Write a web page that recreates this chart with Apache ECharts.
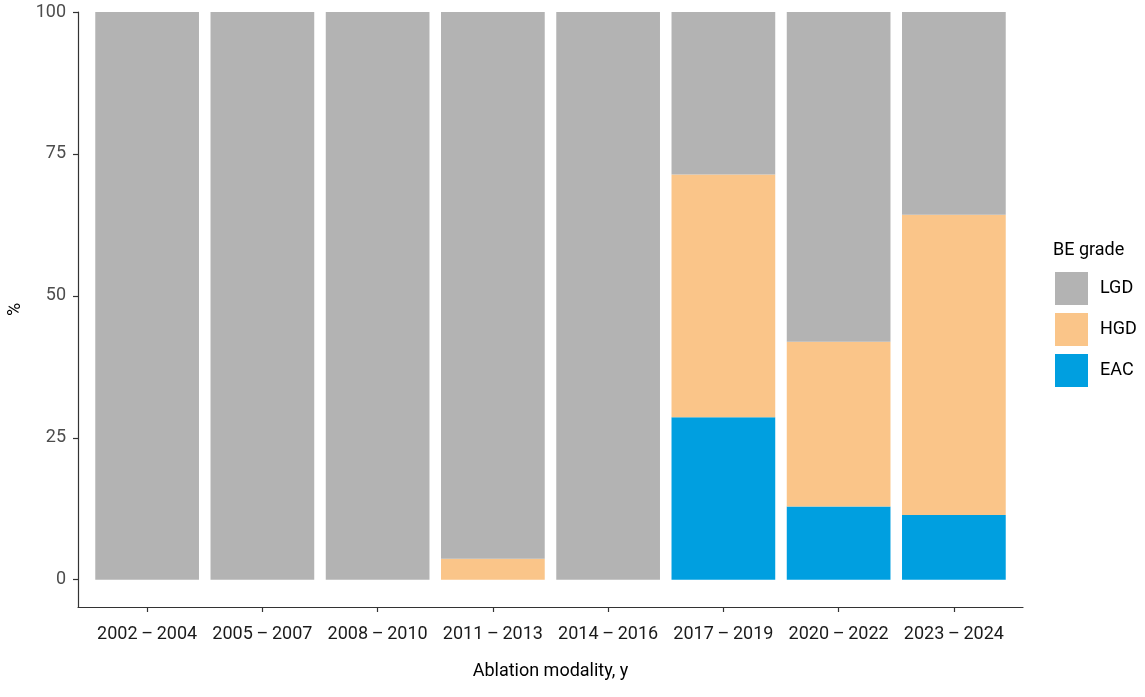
<!DOCTYPE html>
<html>
<head>
<meta charset="utf-8">
<script src="https://cdn.jsdelivr.net/npm/echarts@6/dist/echarts.min.js"></script>
<style>
  html, body { margin: 0; padding: 0; background: #fff; }
  #chart { width: 1145px; height: 697px; }
</style>
</head>
<body>
<div id="chart"></div>
<script>
// 数据
const categories = ['2002\u2009\u2013\u20092004', '2005\u2009\u2013\u20092007', '2008\u2009\u2013\u20092010', '2011\u2009\u2013\u20092013',
  '2014\u2009\u2013\u20092016', '2017\u2009\u2013\u20092019', '2020\u2009\u2013\u20092022', '2023\u2009\u2013\u20092024']
const eacValues = [0, 0, 0, 0, 0, 28.6, 12.9, 11.4]
const hgdValues = [0, 0, 0, 3.7, 0, 42.8, 29.0, 52.9]
const lgdValues = [100, 100, 100, 96.3, 100, 28.6, 58.1, 35.7]
const yTicks = [0, 25, 50, 75, 100]

const font = 'Roboto, "Noto Sans", sans-serif'
const axisColor = '#333'

let myChart = echarts.init(document.getElementById('chart'))
myChart.setOption({
  animation: false,
  title: {
    text: 'BE grade',
    left: 1048,
    top: 236,
    textStyle: { fontFamily: font, fontSize: 18, fontWeight: 'normal', color: '#000' }
  },
  legend: {
    orient: 'vertical',
    left: 1050,
    top: 267,
    itemWidth: 33,
    itemHeight: 33,
    itemGap: 8,
    icon: 'rect',
    data: ['LGD', 'HGD', 'EAC'],
    textStyle: { fontFamily: font, fontSize: 18, color: '#000', padding: [0, 0, 0, 7] }
  },
  grid: [
    // 柱子所在区域（左右各留 0.1 个类目宽度，模拟 ggplot 的 0.6 扩展）
    { left: 89.5, top: 12, right: 133.5, bottom: 90, outerBoundsMode: 'none' },
    // 坐标轴所在区域
    { left: 78, top: 12, right: 122, bottom: 90, outerBoundsMode: 'none' }
  ],
  xAxis: [
    {
      type: 'category',
      gridIndex: 0,
      data: categories,
      axisLine: { show: false, onZero: false },
      axisTick: { show: true, alignWithLabel: true, interval: 0, length: 5, lineStyle: { color: axisColor, width: 1.2 } },
      axisLabel: { interval: 0, margin: 18, fontFamily: font, fontSize: 18, color: '#1a1a1a' }
    },
    {
      type: 'value',
      gridIndex: 1,
      min: 0,
      max: 1,
      name: 'Ablation modality, y',
      nameLocation: 'middle',
      nameGap: 55,
      nameTextStyle: { fontFamily: font, fontSize: 18, color: '#000' },
      splitLine: { show: false },
      axisLine: { show: true, onZero: false, lineStyle: { color: axisColor, width: 1.2 } },
      axisTick: { show: false },
      axisLabel: { show: false }
    }
  ],
  yAxis: [
    {
      type: 'value',
      gridIndex: 0,
      min: -4.8,
      max: 100,
      show: false
    },
    {
      type: 'value',
      gridIndex: 1,
      min: -4.8,
      max: 100,
      name: '%',
      nameLocation: 'middle',
      nameGap: 51,
      nameRotate: 90,
      nameTextStyle: { fontFamily: font, fontSize: 18, color: '#000' },
      splitLine: { show: false },
      axisLine: { show: true, onZero: false, lineStyle: { color: axisColor, width: 1.2 } },
      axisTick: { show: true, length: 5, customValues: yTicks, lineStyle: { color: axisColor, width: 1.2 } },
      axisLabel: { customValues: yTicks, margin: 12, fontFamily: font, fontSize: 18, color: '#4d4d4d' }
    }
  ],
  series: [
    {
      name: 'EAC', type: 'bar', stack: 'all', barWidth: '90%',
      itemStyle: { color: '#009FE0' },
      data: eacValues
    },
    {
      name: 'HGD', type: 'bar', stack: 'all', barWidth: '90%',
      itemStyle: { color: '#FAC589' },
      data: hgdValues
    },
    {
      name: 'LGD', type: 'bar', stack: 'all', barWidth: '90%',
      itemStyle: { color: '#B3B3B3' },
      data: lgdValues
    }
  ]
})
window.addEventListener('resize', function () {
  myChart.resize()
})
</script>
</body>
</html>
